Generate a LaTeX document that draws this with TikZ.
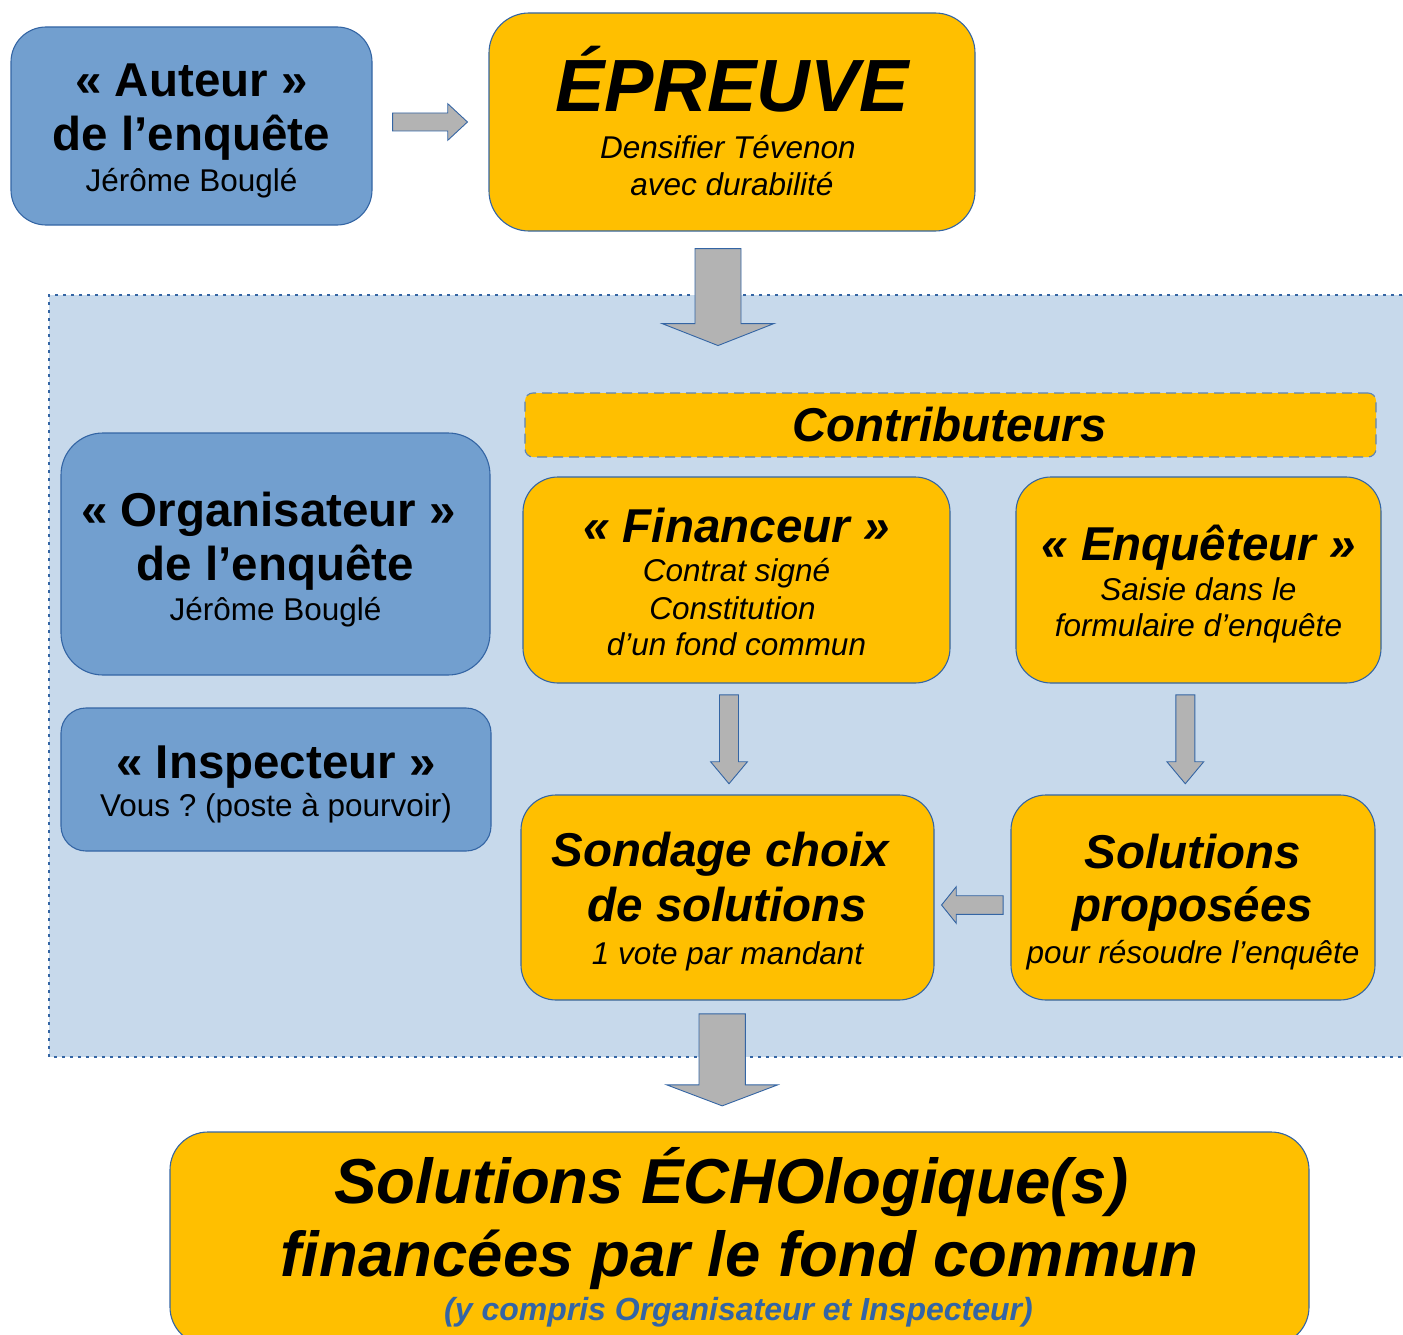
\documentclass[tikz,border=0pt]{standalone}
\usepackage{fontspec}
\setmainfont{Liberation Sans}
\usetikzlibrary{calc}
\frenchspacing

\definecolor{boxblue}{RGB}{114,159,207}
\definecolor{edgeblue}{RGB}{52,101,164}
\definecolor{boxorange}{RGB}{255,191,0}
\definecolor{zoneblue}{RGB}{199,217,235}
\definecolor{arrowgray}{RGB}{179,179,179}

\newcommand{\fsz}[1]{\fontsize{#1}{#1}\selectfont}

% block arrows: start, tip, shaft half width, head half width, head length
\newcommand{\downblock}[5]{%
  \draw[blockarrow] ($(#1)+(-#3,0)$) -- ($(#2)+(-#3,-#5)$) -- ($(#2)+(-#4,-#5)$) -- (#2)
    -- ($(#2)+(#4,-#5)$) -- ($(#2)+(#3,-#5)$) -- ($(#1)+(#3,0)$) -- cycle;}
% same, sideways (negative head length points left)
\newcommand{\sideblock}[5]{%
  \draw[blockarrow] ($(#1)+(0,-#3)$) -- ($(#2)+({-(#5)},-#3)$) -- ($(#2)+({-(#5)},-#4)$) -- (#2)
    -- ($(#2)+({-(#5)},#4)$) -- ($(#2)+({-(#5)},#3)$) -- ($(#1)+(0,#3)$) -- cycle;}

\begin{document}
\begin{tikzpicture}[
    x=1pt, y=-1pt,
    rolebox/.style={rectangle, draw=edgeblue, line width=1.1pt, fill=boxblue, inner sep=0pt},
    stepbox/.style={rectangle, draw=edgeblue, line width=1.1pt, fill=boxorange, inner sep=0pt},
    headline/.style={anchor=base, inner sep=0pt, font=\bfseries\fsz{47.5}},
    headlineit/.style={anchor=base, inner sep=0pt, font=\bfseries\itshape\fsz{47.5}},
    subline/.style={anchor=base, inner sep=0pt, font=\fsz{31.5}},
    sublineit/.style={anchor=base, inner sep=0pt, font=\itshape\fsz{31.5}},
    blockarrow/.style={draw=edgeblue, line width=0.9pt, fill=arrowgray, line join=miter}
]
    \clip (0,0) rectangle (1403,1335);

    % Top row
    \node (auteur) [rolebox, rounded corners=35pt, minimum width=361pt, minimum height=198pt] at (191.5,126) {};
    \node (auteur1) [headline] at ($(auteur)+(0,-29)$) {« Auteur »};
    \node (auteur2) [headline] at ($(auteur)+(0,24)$) {de l’enquête};
    \node (auteur3) [subline] at ($(auteur)+(0,65.5)$) {Jérôme Bouglé};

    \node (epreuve) [stepbox, rounded corners=40pt, minimum width=486pt, minimum height=218pt] at (732,122) {};
    \node (epreuve1) [anchor=base, inner sep=0pt, font=\bfseries\itshape\fsz{74}] at ($(epreuve)+(0,-10.3)$) {ÉPREUVE};
    \node (epreuve2) [sublineit] at ($(epreuve)+(-4,36)$) {Densifier Tévenon};
    \node (epreuve3) [sublineit] at ($(epreuve)+(0,73)$) {avec durabilité};

    % Inquiry zone
    \fill[zoneblue] (49,295) rectangle (1410,1057);
    \draw[edgeblue, line width=1.1pt, dash pattern=on 3pt off 5pt] (1410,295) -- (49,295) -- (49,1057) -- (1410,1057);

    \node (contrib) [stepbox, draw=edgeblue!80, dash pattern=on 10pt off 6pt, rounded corners=8pt, minimum width=851pt, minimum height=64pt] at (950.5,425) {};
    \node (contrib1) [headlineit] at ($(contrib)+(-1,16.7)$) {Contributeurs};

    \node (orga) [rolebox, rounded corners=42pt, minimum width=429pt, minimum height=242pt] at (275.5,554) {};
    \node (orga1) [headline] at ($(orga)+(-7,-27.3)$) {« Organisateur »};
    \node (orga2) [headline] at ($(orga)+(0,26)$) {de l’enquête};
    \node (orga3) [subline] at ($(orga)+(0,66.7)$) {Jérôme Bouglé};

    \node (inspect) [rolebox, rounded corners=25pt, minimum width=430pt, minimum height=143pt] at (276,779.5) {};
    \node (inspect1) [headline] at ($(inspect)+(0,-1.2)$) {« Inspecteur »};
    \node (inspect2) [subline] at ($(inspect)+(0,37.2)$) {Vous ? (poste à pourvoir)};

    \node (financ) [stepbox, rounded corners=35pt, minimum width=427pt, minimum height=206pt] at (736.5,580) {};
    \node (financ1) [headlineit] at ($(financ)+(0,-37.7)$) {« Financeur »};
    \node (financ2) [sublineit] at ($(financ)+(0,1.7)$) {Contrat signé};
    \node (financ3) [sublineit] at ($(financ)+(-4,39)$) {Constitution};
    \node (financ4) [sublineit] at ($(financ)+(0,75.3)$) {d’un fond commun};

    \node (enquet) [stepbox, rounded corners=35pt, minimum width=365pt, minimum height=206pt] at (1198.5,580) {};
    \node (enquet1) [headlineit] at ($(enquet)+(0,-20)$) {« Enquêteur »};
    \node (enquet2) [sublineit] at ($(enquet)+(0,20)$) {Saisie dans le};
    \node (enquet3) [sublineit] at ($(enquet)+(0,56)$) {formulaire d’enquête};

    \node (sondage) [stepbox, rounded corners=35pt, minimum width=413pt, minimum height=205pt] at (727.5,897.5) {};
    \node (sondage1) [headlineit] at ($(sondage)+(-7,-30.8)$) {Sondage choix};
    \node (sondage2) [headlineit] at ($(sondage)+(0,24.2)$) {de solutions};
    \node (sondage3) [sublineit] at ($(sondage)+(0,66.5)$) {1 vote par mandant};

    \node (propos) [stepbox, rounded corners=35pt, minimum width=364pt, minimum height=205pt] at (1193,897.5) {};
    \node (propos1) [headlineit] at ($(propos)+(0,-29.2)$) {Solutions};
    \node (propos2) [headlineit] at ($(propos)+(0,24.2)$) {proposées};
    \node (propos3) [sublineit] at ($(propos)+(0,65.8)$) {pour résoudre l’enquête};

    % Outcome
    \node (final) [stepbox, rounded corners=38pt, minimum width=1139pt, minimum height=213pt] at (739.5,1238.5) {};
    \node (final1) [anchor=base, inner sep=0pt, font=\bfseries\itshape\fsz{63.5}] at ($(final)+(-8,-35.2)$) {Solutions ÉCHOlogique(s)};
    \node (final2) [anchor=base, inner sep=0pt, font=\bfseries\itshape\fsz{63.5}] at ($(final)+(0,38.2)$) {financées par le fond commun};
    \node (final3) [anchor=base, inner sep=0pt, text=edgeblue, font=\bfseries\itshape\fsz{32}] at ($(final)+(-1,81.5)$) {(y compris Organisateur et Inspecteur)};

    % Arrows
    \coordinate (a1s) at ($(auteur.east)+(20,-4)$);
    \coordinate (a1t) at ($(epreuve.west)+(-21,0)$);
    \sideblock{a1s}{a1t}{9}{18.3}{19.7}

    \coordinate (a2s) at ($(epreuve.south)+(-14,17)$);
    \coordinate (a2t) at ($(epreuve.south)+(-14,114)$);
    \downblock{a2s}{a2t}{23}{56}{22}

    \coordinate (a3s) at ($(financ.south)+(-7.5,11.3)$);
    \coordinate (a3t) at ($(sondage.north)+(1.5,-10.7)$);
    \downblock{a3s}{a3t}{9.5}{18.4}{22}

    \coordinate (a4s) at ($(enquet.south)+(-13.2,11.3)$);
    \coordinate (a4t) at ($(propos.north)+(-7.7,-10.7)$);
    \downblock{a4s}{a4t}{9.5}{18.4}{22}

    \coordinate (a5s) at ($(propos.west)+(-7.3,7.5)$);
    \coordinate (a5t) at ($(sondage.east)+(7,7.5)$);
    \sideblock{a5s}{a5t}{9.3}{18.3}{-14.7}

    \coordinate (a6s) at ($(sondage.south)+(-5.3,13.3)$);
    \coordinate (a6t) at ($(final.north)+(-17.3,-25.6)$);
    \downblock{a6s}{a6t}{23.2}{55.5}{21}

\end{tikzpicture}
\end{document}
